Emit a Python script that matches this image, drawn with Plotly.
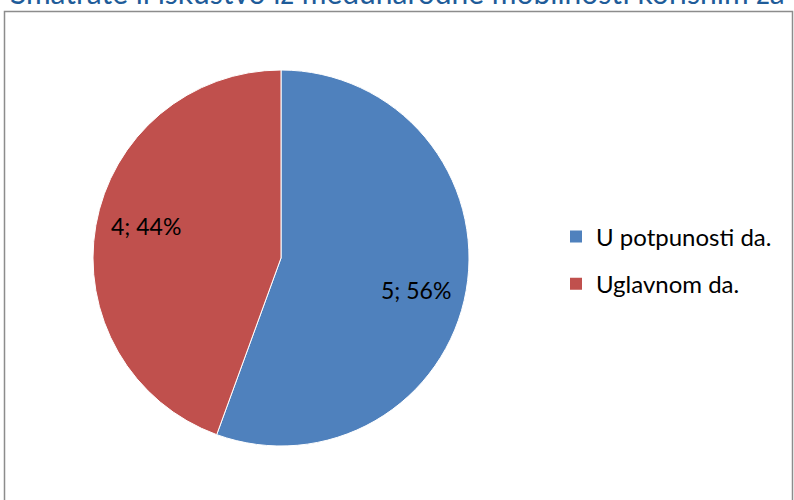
import math
import plotly.graph_objects as go

labels = ["U potpunosti da.", "Uglavnom da."]
values = [5, 4]
colors = ["#4F81BD", "#C0504D"]
title_text = "Smatrate li iskustvo iz međunarodne mobilnosti korisnim za"

W, H = 794, 500
# pie geometry (figure pixels)
CX, CY, R = 281, 258, 188

total = sum(values)
texts = [f"{v}; {round(100 * v / total)}%" for v in values]

fig = go.Figure()
fig.add_trace(go.Pie(
    labels=labels,
    values=values,
    textinfo="none",
    marker=dict(colors=colors, line=dict(color="white", width=1)),
    sort=False,
    direction="clockwise",
    rotation=0,
    showlegend=False,
    domain=dict(x=[(CX - R) / W, (CX + R) / W], y=[1 - (CY + R) / H, 1 - (CY - R) / H]),
    hoverinfo="label+value+percent",
))

# legend entries
for lab, col in zip(labels, colors):
    fig.add_trace(go.Scatter(
        x=[None], y=[None], mode="markers", name=lab, legendgroup=lab,
        marker=dict(symbol="square", size=12, color=col),
        hoverinfo="skip",
    ))

# data labels placed near the mid-angle of each slice
annotations = []
cum = 0
for v, t in zip(values, texts):
    mid = (cum + v / 2) / total * 2 * math.pi + math.radians(3.5)
    cum += v
    r = 0.74 * R
    px = CX + r * math.sin(mid)
    py = CY - r * math.cos(mid)
    annotations.append(dict(
        text=t, xref="paper", yref="paper", x=px / W, y=1 - py / H,
        xanchor="center", yanchor="middle", showarrow=False,
        font=dict(family="Lato", size=23, color="black"),
    ))

annotations.append(dict(
    text=title_text, xref="paper", yref="paper",
    x=0.5, y=1 + 8 / H, xanchor="center", yanchor="middle",
    showarrow=False,
    font=dict(family="Lato", size=30, color="#1F5C99"),
))

fig.update_layout(
    width=W,
    height=H,
    margin=dict(l=0, r=0, t=0, b=0),
    paper_bgcolor="white",
    plot_bgcolor="white",
    font=dict(family="Lato", size=24, color="black"),
    xaxis=dict(visible=False),
    yaxis=dict(visible=False),
    showlegend=True,
    legend=dict(
        x=556 / W, y=1 - 260.5 / H, xanchor="left", yanchor="middle",
        font=dict(family="Lato", size=24, color="black"),
        bgcolor="rgba(0,0,0,0)",
        tracegroupgap=13,
    ),
    shapes=[dict(
        type="rect", xref="paper", yref="paper",
        x0=4.5 / W, x1=792.5 / W, y0=-0.05, y1=1 - 11.5 / H,
        line=dict(color="#8C8C8C", width=1.5),
    )],
    annotations=annotations,
)

fig.write_html(
    "out.html",
    config={"displayModeBar": False},
    post_script="document.body.style.margin='0';",
)
